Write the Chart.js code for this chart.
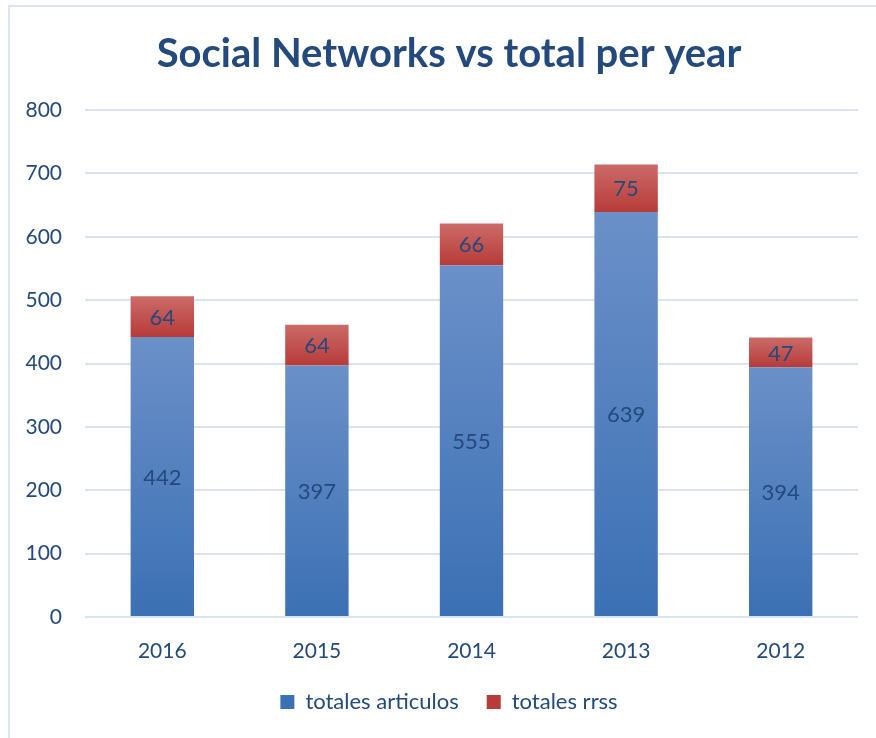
<!DOCTYPE html>
<html>
<head>
<meta charset="utf-8">
<script src="https://cdn.jsdelivr.net/npm/chart.js@4/dist/chart.umd.min.js"></script>
<style>
  html, body { margin: 0; padding: 0; background: #ffffff; overflow: hidden; }
  #marco {
    position: absolute; left: 8px; top: 5px;
    width: 880px; height: 760px;
    border-top: 2px solid #dbe5f3; border-left: 2px solid #dbe5f3;
  }
  #grafico-redes { display: block; }
</style>
</head>
<body>
<div id="marco"><canvas id="grafico-redes" width="878" height="740"></canvas></div>
<script>
const anos = ["2016", "2015", "2014", "2013", "2012"];
const totalesArticulos = [442, 397, 555, 639, 394];
const totalesRrss = [64, 64, 66, 75, 47];
const ticksEixoY = [0, 100, 200, 300, 400, 500, 600, 700, 800];

const corTexto = "#24497c";
const corGrade = "#d9e3f1";
const fonte = "Lato, 'Open Sans', sans-serif";

// gradiente vertical por segmento: mais claro no topo, mais escuro na base
function gradienteBarra(corTopo, corBase, corLegenda, inicio) {
  return (context) => {
    const chart = context.chart;
    if (context.type !== "data" || !chart.chartArea) return corLegenda;
    const escala = chart.scales.y;
    const i = context.dataIndex;
    const de = inicio ? inicio[i] : 0;
    const topo = escala.getPixelForValue(de + context.raw);
    const base = escala.getPixelForValue(de);
    const g = chart.ctx.createLinearGradient(0, topo, 0, base);
    g.addColorStop(0, corTopo);
    g.addColorStop(1, corBase);
    return g;
  };
}

// escreve o valor no meio de cada segmento
const rotulosValores = {
  id: "rotulosValores",
  afterDatasetsDraw(chart) {
    const ctx = chart.ctx;
    ctx.save();
    ctx.font = "22px " + fonte;
    ctx.fillStyle = corTexto;
    ctx.textAlign = "center";
    ctx.textBaseline = "middle";
    chart.data.datasets.forEach((ds, i) => {
      chart.getDatasetMeta(i).data.forEach((barra, j) => {
        const { x, y, base } = barra.getProps(["x", "y", "base"], true);
        ctx.fillText(ds.data[j], x, (y + base) / 2 + 1);
      });
    });
    ctx.restore();
  }
};

const ctxRedes = document.getElementById("grafico-redes");

const chartRedes = new Chart(ctxRedes, {
  type: "bar",
  data: {
    labels: anos,
    datasets: [{
      label: "totales articulos",
      data: totalesArticulos,
      backgroundColor: gradienteBarra("#6b90c8", "#3b70b4", "#4f7fc0"),
      borderWidth: 0,
      barPercentage: 0.41,
      categoryPercentage: 1
    }, {
      label: "totales rrss",
      data: totalesRrss,
      backgroundColor: gradienteBarra("#cb6b69", "#b73b38", "#c0504d", totalesArticulos),
      borderWidth: 0,
      barPercentage: 0.41,
      categoryPercentage: 1
    }]
  },
  plugins: [rotulosValores],
  options: {
    responsive: false,
    animation: false,
    layout: { padding: { left: 0, right: 0, top: 0, bottom: 24 } },
    plugins: {
      title: {
        display: true,
        text: "Social Networks vs total per year",
        color: corTexto,
        font: { family: fonte, size: 40, weight: "bold" },
        padding: { top: 23, bottom: 32 }
      },
      legend: {
        position: "bottom",
        labels: {
          color: corTexto,
          boxWidth: 14,
          boxHeight: 14,
          padding: 28,
          font: { family: fonte, size: 22 }
        }
      },
      tooltip: { enabled: false }
    },
    scales: {
      x: {
        stacked: true,
        afterFit(scale) {
          scale.height = 46;
        },
        grid: { display: false },
        border: { display: false },
        ticks: {
          color: corTexto,
          padding: 14,
          font: { family: fonte, size: 21 }
        }
      },
      y: {
        stacked: true,
        min: 0,
        max: 800,
        afterBuildTicks(scale) {
          scale.ticks = ticksEixoY.map((v) => ({ value: v }));
        },
        afterFit(scale) {
          scale.width = 75;
        },
        grid: { color: corGrade, lineWidth: 2, drawTicks: false },
        border: { display: false },
        ticks: {
          color: corTexto,
          padding: 23,
          font: { family: fonte, size: 21 }
        }
      },
      // margem vazia à direita da área do gráfico
      margemDireita: {
        position: "right",
        min: 0,
        max: 800,
        afterFit(scale) {
          scale.width = 30;
        },
        grid: { display: false },
        border: { display: false },
        ticks: { display: false }
      }
    }
  }
});
</script>
</body>
</html>
